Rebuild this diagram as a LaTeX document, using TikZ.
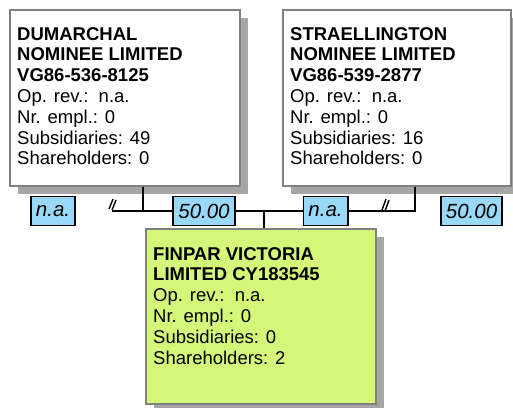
\documentclass[tikz,border=0pt]{standalone}
\usepackage{fontspec}
\setmainfont{Liberation Sans}
\usetikzlibrary{positioning, shadows}
\definecolor{boxgray}{RGB}{128,128,128}
\definecolor{shadowgray}{RGB}{166,166,166}
\definecolor{sharefill}{RGB}{153,217,247}
\definecolor{subfill}{RGB}{212,247,122}

\begin{document}
\begin{tikzpicture}[x=1pt,y=-1pt,
company/.style={shape=rectangle,draw=boxgray,line width=1.8pt,fill=white,anchor=north west,minimum height=176pt,inner sep=0pt,drop shadow={shadow xshift=8pt,shadow yshift=-8pt,fill=shadowgray,opacity=1}},
info/.style={anchor=north west,align=left,inner sep=0pt,font=\fontsize{18.5}{20.8}\selectfont},
share/.style={shape=rectangle,draw=black,line width=1.8pt,fill=sharefill,minimum height=29pt,inner xsep=5pt,inner ysep=0pt,font=\fontsize{20.5}{24}\selectfont\itshape},
link/.style={line width=1.8pt},
%cut marks
cut/.style={line width=1.4pt}
]
\useasboundingbox (0,0) rectangle (513,407);

\node[company,minimum width=230pt] (dum) at (9,9) {};
\node[info,below right=18pt and 8pt of dum.north west] (dumtext)
  {\textbf{DUMARCHAL}\\\textbf{NOMINEE LIMITED}\\\textbf{VG86-536-8125}\\Op. rev.:\ \ n.a.\\Nr. empl.: 0\\Subsidiaries: 49\\Shareholders: 0};

\node[company,minimum width=228pt] (str) at (282,9) {};
\node[info,below right=18pt and 8pt of str.north west] (strtext)
  {\textbf{STRAELLINGTON}\\\textbf{NOMINEE LIMITED}\\\textbf{VG86-539-2877}\\Op. rev.:\ \ n.a.\\Nr. empl.: 0\\Subsidiaries: 16\\Shareholders: 0};

\node[company,fill=subfill,minimum width=230pt,minimum height=175pt] (fin) at (145,228) {};
\node[info,below right=19pt and 8pt of fin.north west] (fintext)
  {\textbf{FINPAR VICTORIA}\\\textbf{LIMITED CY183545}\\Op. rev.:\ \ n.a.\\Nr. empl.: 0\\Subsidiaries: 0\\Shareholders: 2};

\node[share] (naA) at (53,211) {n.a.};
\node[share] (pctA) at (204,211) {50.00};
\node[share] (naB) at (325.5,211) {n.a.};
\node[share] (pctB) at (471.5,211) {50.00};

\coordinate (leftcut) at (112,211);
\coordinate (dumfoot) at (143,211);
\coordinate (finfoot) at (264,211);
\coordinate (strfoot) at (415,211);

\draw[link] (leftcut) -- (pctA.west);
\draw[link] (dum.south -| dumfoot) -- (dumfoot);
\draw[link] (pctA.east) -- (naB.west);
\draw[link] (finfoot) -- (fin.north -| finfoot);
\draw[link] (naB.east) -- (strfoot) -- (str.south -| strfoot);

\draw[cut] (109,209) -- (113,199) (112,210) -- (116,200);
\draw[cut] (382,210) -- (386,199) (385,211) -- (389,200);
\end{tikzpicture}
\end{document}
